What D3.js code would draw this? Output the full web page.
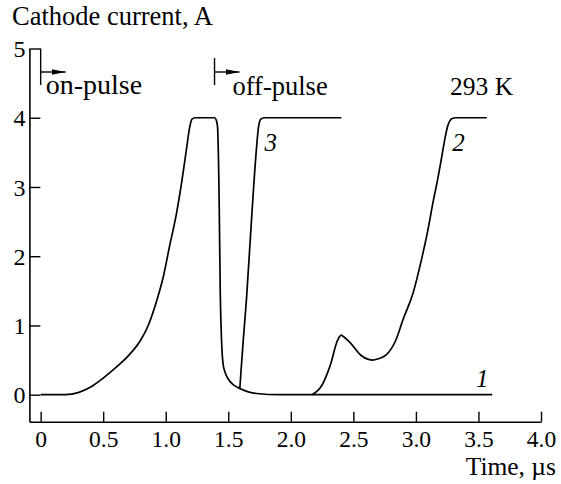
<!DOCTYPE html>
<html>
<head>
<meta charset="utf-8">
<script src="https://cdn.jsdelivr.net/npm/d3@7"></script>
<style>
  html, body { margin: 0; padding: 0; background: #fff; }
  svg { display: block; }
</style>
</head>
<body>
<script>
// ---- data ----
const xTicks = [0, 0.5, 1.0, 1.5, 2.0, 2.5, 3.0, 3.5, 4.0];
const xTickLabels = ["0", "0.5", "1.0", "1.5", "2.0", "2.5", "3.0", "3.5", "4.0"];
const yTicks = [0, 1, 2, 3, 4, 5];
const yTickLabels = ["0", "1", "2", "3", "4", "5"];

// curve 1 (on-pulse, then off-pulse at 1.4 us)
const curve1T = [0, 0.2, 0.3, 0.4, 0.5, 0.6, 0.7, 0.8, 0.86, 0.93, 0.98, 1.03, 1.086, 1.13, 1.166, 1.19, 1.21, 1.235,
                 1.39, 1.405, 1.414, 1.427, 1.436, 1.446, 1.458, 1.475, 1.498, 1.55, 1.592, 1.725, 1.91, 3.61];
const curve1I = [0, 0, 0.03, 0.11, 0.24, 0.39, 0.56, 0.79, 1.0, 1.37, 1.70, 2.14, 2.62, 3.10, 3.55, 3.85, 3.98, 4.0,
                 4.0, 3.96, 3.87, 2.81, 1.45, 0.79, 0.45, 0.32, 0.23, 0.13, 0.09, 0.017, 0, 0];
// curve 2
const curve2T = [2.17, 2.21, 2.25, 2.29, 2.32, 2.364, 2.39, 2.404, 2.42, 2.47, 2.56, 2.62, 2.656, 2.7, 2.76, 2.84,
                 2.90, 2.976, 3.043, 3.096, 3.14, 3.175, 3.205, 3.23, 3.256, 3.29, 3.32, 3.567];
const curve2I = [0, 0.05, 0.14, 0.30, 0.45, 0.74, 0.84, 0.86, 0.84, 0.76, 0.57, 0.51, 0.50, 0.52, 0.57, 0.79,
                 1.10, 1.46, 1.94, 2.38, 2.81, 3.12, 3.42, 3.68, 3.89, 3.99, 4.0, 4.0];
// curve 3
const curve3T = [1.592, 1.618, 1.645, 1.69, 1.725, 1.742, 1.76, 1.785, 2.404];
const curve3I = [0.09, 0.75, 1.37, 2.65, 3.55, 3.87, 3.98, 4.0, 4.0];

const curveLabels = ["1", "2", "3"];
const yTitle = "Cathode current, A";
const xTitle = "Time, µs";
const onText = "on-pulse";
const offText = "off-pulse";
const tempText = "293 K";
const onT = 0, offT = 1.39;

// ---- drawing ----
const FONT = "Liberation Serif, Times New Roman, Times, serif";
const W = 561, H = 484;
const svg = d3.select("body").append("svg").attr("width", W).attr("height", H);

const x = d3.scaleLinear().domain([-0.09, 4]).range([29.4, 541]);
const y = d3.scaleLinear().domain([-0.39, 5]).range([421.7, 48.5]);
const axisY0 = y(-0.39);

// x axis
const gx = svg.append("g").attr("transform", `translate(0,${axisY0})`)
  .call(d3.axisBottom(x).tickValues(xTicks).tickSizeInner(-10).tickSizeOuter(0)
    .tickFormat((d, i) => xTickLabels[i]));
gx.attr("font-family", FONT).attr("font-size", 23.5);
gx.select(".domain").attr("stroke", "#000").attr("stroke-width", 1.6);
gx.selectAll(".tick line").attr("stroke", "#000").attr("stroke-width", 1.4);
gx.selectAll(".tick text").attr("y", 25.5).attr("dy", 0);

// y axis
const gy = svg.append("g").attr("transform", `translate(${x(-0.09)},0)`)
  .call(d3.axisLeft(y).tickValues(yTicks).tickSizeInner(-11).tickSizeOuter(0)
    .tickFormat((d, i) => yTickLabels[i]));
gy.attr("font-family", FONT).attr("font-size", 24);
gy.select(".domain").attr("stroke", "#000").attr("stroke-width", 1.6);
gy.selectAll(".tick line").attr("stroke", "#000").attr("stroke-width", 1.4);
gy.selectAll(".tick text").attr("x", -4).attr("dy", "0.34em");

// curves
const line = d3.line().x(d => x(d[0])).y(d => y(d[1])).curve(d3.curveMonotoneX);
const series = [
  d3.zip(curve1T, curve1I),
  d3.zip(curve2T, curve2I),
  d3.zip(curve3T, curve3I)
];
svg.append("g").selectAll("path").data(series).join("path")
  .attr("d", line).attr("fill", "none").attr("stroke", "#000")
  .attr("stroke-width", 1.7).attr("stroke-linejoin", "round");

// curve labels
const labelPos = [[3.48, 0.11], [3.29, 3.52], [1.79, 3.52]];
svg.append("g").selectAll("text").data(curveLabels).join("text")
  .attr("x", (d, i) => x(labelPos[i][0])).attr("y", (d, i) => y(labelPos[i][1]))
  .attr("font-style", "italic").attr("font-size", 25).text(d => d);

// titles
svg.append("text").attr("x", 12).attr("y", 25).attr("font-size", 26.5).text(yTitle);
svg.append("text").attr("x", 556).attr("y", 475).attr("text-anchor", "end")
  .attr("font-size", 25.5).text(xTitle);
svg.append("text").attr("x", 450).attr("y", 95).attr("font-size", 25.5).text(tempText);

// pulse markers
const defs = svg.append("defs");
defs.append("marker").attr("id", "arr").attr("viewBox", "0 0 14 8")
  .attr("refX", 14).attr("refY", 4).attr("markerWidth", 14).attr("markerHeight", 8)
  .attr("markerUnits", "userSpaceOnUse").attr("orient", "auto")
  .append("path").attr("d", "M0,1.2 L14,4 L0,6.8 Z").attr("fill", "#000");

function pulseMarker(t, yTop, label, labelDx, labelY, fs) {
  const px = x(t);
  svg.append("line").attr("x1", px).attr("x2", px).attr("y1", yTop).attr("y2", 85)
    .attr("stroke", "#000").attr("stroke-width", 1.4);
  svg.append("line").attr("x1", px).attr("x2", px + 25).attr("y1", 72).attr("y2", 72)
    .attr("stroke", "#000").attr("stroke-width", 1.4).attr("marker-end", "url(#arr)");
  svg.append("text").attr("x", px + labelDx).attr("y", labelY).attr("font-size", fs).text(label);
}
pulseMarker(onT, y(5), onText, 5, 94, 28);
pulseMarker(offT, 58, offText, 18, 95, 26.5);

svg.selectAll("text").attr("font-family", FONT).attr("fill", "#000");
</script>
</body>
</html>
